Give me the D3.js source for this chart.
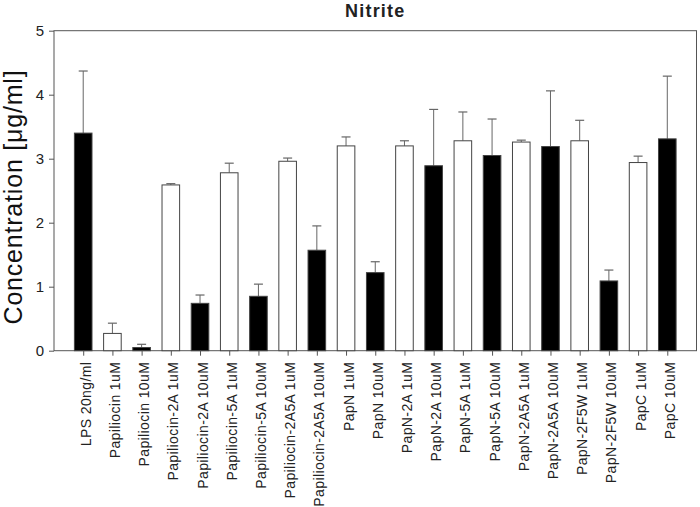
<!DOCTYPE html>
<html><head><meta charset="utf-8">
<script src="https://cdn.jsdelivr.net/npm/d3@7"></script>
<style>body{margin:0;background:#fff}svg{display:block}text{font-family:"Liberation Sans",Arial,sans-serif}</style>
</head><body><svg id="c" width="700" height="507"></svg>
<script>
const categories = ["LPS 20ng/ml","Papiliocin 1uM","Papiliocin 10uM","Papiliocin-2A 1uM","Papiliocin-2A 10uM","Papiliocin-5A 1uM","Papiliocin-5A 10uM","Papiliocin-2A5A 1uM","Papiliocin-2A5A 10uM","PapN 1uM","PapN 10uM","PapN-2A 1uM","PapN-2A 10uM","PapN-5A 1uM","PapN-5A 10uM","PapN-2A5A 1uM","PapN-2A5A 10uM","PapN-2F5W 1uM","PapN-2F5W 10uM","PapC 1uM","PapC 10uM"];
const values = [3.40,0.27,0.05,2.59,0.74,2.78,0.85,2.96,1.57,3.20,1.22,3.20,2.89,3.28,3.05,3.26,3.19,3.28,1.09,2.94,3.31];
const errTops = [4.37,0.43,0.10,2.61,0.87,2.93,1.04,3.01,1.95,3.34,1.39,3.28,3.77,3.73,3.62,3.29,4.06,3.60,1.26,3.04,4.29];
const filled = [1,0,1,0,1,0,1,0,1,0,1,0,1,0,1,0,1,0,1,0,1];
const yTicks = [0,1,2,3,4,5];
const title = "Nitrite";
const yLabel = "Concentration [\u03bcg/ml]";

const svg = d3.select("#c");
const L=54, R=696.5, T=30.7, B=350.7;
const x = d3.scalePoint().domain(categories).range([L,R]).padding(1);
const y = d3.scaleLinear().domain([0,5]).range([B,T]);
const lineCol = "#555";
const bw = 17.6;

svg.append("rect").attr("x",L).attr("y",T).attr("width",R-L).attr("height",B-T)
  .attr("fill","none").attr("stroke",lineCol).attr("stroke-width",1);

const g = svg.append("g");
categories.forEach((c,i)=>{
  const cx = x(c);
  g.append("line").attr("x1",cx).attr("x2",cx).attr("y1",y(values[i])).attr("y2",y(errTops[i]))
    .attr("stroke","#666").attr("stroke-width",1);
  g.append("line").attr("x1",cx-4.5).attr("x2",cx+4.5).attr("y1",y(errTops[i])).attr("y2",y(errTops[i]))
    .attr("stroke","#666").attr("stroke-width",1.2);
});
svg.append("g").selectAll("rect").data(categories).join("rect")
  .attr("x",d=>x(d)-bw/2).attr("width",bw)
  .attr("y",(d,i)=>y(values[i])).attr("height",(d,i)=>B-y(values[i]))
  .attr("fill",(d,i)=>filled[i]?"#000":"#fff")
  .attr("stroke","#444").attr("stroke-width",1);

const yAxis = svg.append("g").attr("transform",`translate(${L},0)`)
  .call(d3.axisLeft(y).tickValues(yTicks).tickSize(5).tickPadding(5).tickFormat(d3.format("d")));
yAxis.select(".domain").remove();
yAxis.selectAll("line").attr("stroke",lineCol);
yAxis.selectAll("text").attr("font-size",15).attr("fill","#222");

const xAxis = svg.append("g").attr("transform",`translate(0,${B})`)
  .call(d3.axisBottom(x).tickSize(5).tickPadding(6));
xAxis.select(".domain").remove();
xAxis.selectAll("line").attr("stroke",lineCol);
xAxis.selectAll("text").attr("font-size",14).attr("letter-spacing","0.4px").attr("fill","#222")
  .attr("transform","rotate(-90)").attr("text-anchor","end")
  .attr("x",-11).attr("y",0).attr("dy","0.5em");

svg.append("text").attr("x",(L+R)/2).attr("y",17).attr("text-anchor","middle")
  .attr("font-size",18).attr("font-weight","bold").attr("letter-spacing","1.2px").attr("fill","#222").text(title);
svg.append("text").attr("transform",`translate(22,197) rotate(-90)`)
  .attr("text-anchor","middle").attr("font-size",25).attr("letter-spacing","0.8px").attr("fill","#111").text(yLabel);
</script></body></html>
